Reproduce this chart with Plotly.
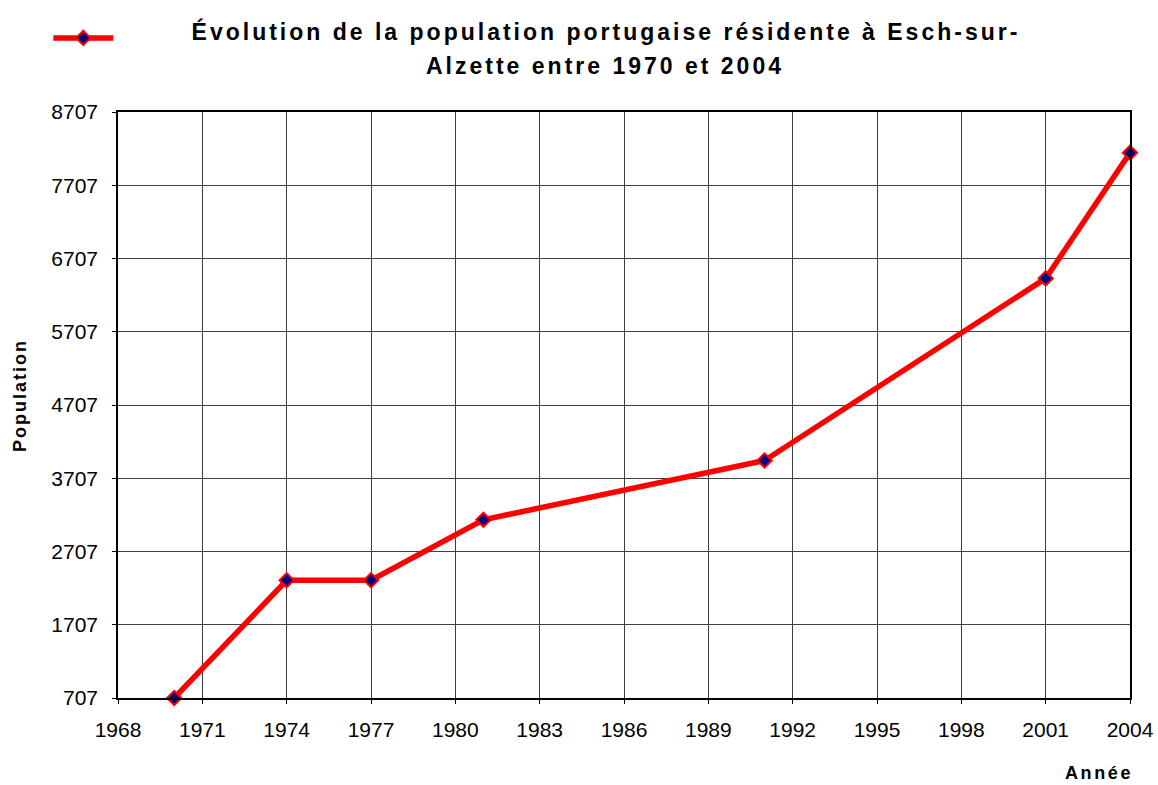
import plotly.graph_objects as go

years = [1970, 1974, 1977, 1981, 1991, 2001, 2004]
population = [707, 2314, 2314, 3140, 3950, 6435, 8150]

y_ticks = list(range(707, 8708, 1000))
x_ticks = list(range(1968, 2005, 3))

title_line1 = "Évolution de la population portugaise résidente à Esch-sur-"
title_line2 = "Alzette entre 1970 et 2004"
y_title = "Population"
x_title = "Année"

FONT = "Liberation Sans, Arial, sans-serif"


def spaced(text, px):
    return '<span style="letter-spacing:%spx"><b>%s</b></span>' % (px, text)


fig = go.Figure()
fig.add_trace(go.Scatter(
    x=years, y=population, mode="lines+markers", name="",
    line=dict(color="#ff0000", width=5.5),
    marker=dict(symbol="diamond", size=11, color="#000080",
                line=dict(color="#ff0000", width=2)),
    cliponaxis=False, showlegend=True,
))

fig.update_layout(
    width=1158, height=785,
    paper_bgcolor="white", plot_bgcolor="white",
    margin=dict(l=118, r=28, t=112, b=87, autoexpand=False),
    font=dict(family=FONT, color="black"),
    title=dict(
        text=spaced(title_line1, 3.0),
        xref="container", yref="container",
        x=0.5233, xanchor="center", y=0.9592, yanchor="middle",
        font=dict(size=23, color="black", family=FONT),
    ),
    showlegend=True,
    legend=dict(xref="container", yref="container", orientation="h",
                x=0.0417, y=0.9517, xanchor="left", yanchor="middle",
                bgcolor="rgba(0,0,0,0)", font=dict(size=12),
                itemwidth=60),
    xaxis=dict(
        range=[1968, 2004], tickmode="array", tickvals=x_ticks,
        ticktext=[str(v) for v in x_ticks],
        showgrid=True, gridcolor="#404040", gridwidth=1,
        showline=True, linecolor="black", linewidth=1.5, mirror=True,
        ticks="outside", ticklen=4, tickcolor="black",
        tickfont=dict(size=21, family=FONT), zeroline=False,
        ticklabelstandoff=8, automargin=False,
    ),
    yaxis=dict(
        range=[707, 8707], tickmode="array", tickvals=y_ticks,
        ticktext=[str(v) for v in y_ticks],
        showgrid=True, gridcolor="#404040", gridwidth=1,
        showline=True, linecolor="black", linewidth=1.5, mirror=True,
        ticks="outside", ticklen=4, tickcolor="black",
        tickfont=dict(size=21, family=FONT), zeroline=False,
        ticklabelstandoff=10, automargin=False,
    ),
)

fig.add_annotation(
    text=spaced(title_line2, 3.0), xref="paper", yref="paper",
    x=0.4812, y=1.0777, xanchor="center", yanchor="middle",
    showarrow=False, font=dict(size=23, color="black", family=FONT),
)
fig.add_annotation(
    text=spaced(y_title, 2.0), xref="paper", yref="paper",
    x=-0.0968, y=0.5154, xanchor="center", yanchor="middle", textangle=-90,
    showarrow=False, font=dict(size=18, color="black", family=FONT),
)
fig.add_annotation(
    text=spaced(x_title, 2.6), xref="paper", yref="paper",
    x=0.9694, y=-0.1285, xanchor="center", yanchor="middle",
    showarrow=False, font=dict(size=18, color="black", family=FONT),
)

fig.write_html(
    "out.html",
    config={"displayModeBar": False},
    post_script="document.body.style.margin='0';",
)
